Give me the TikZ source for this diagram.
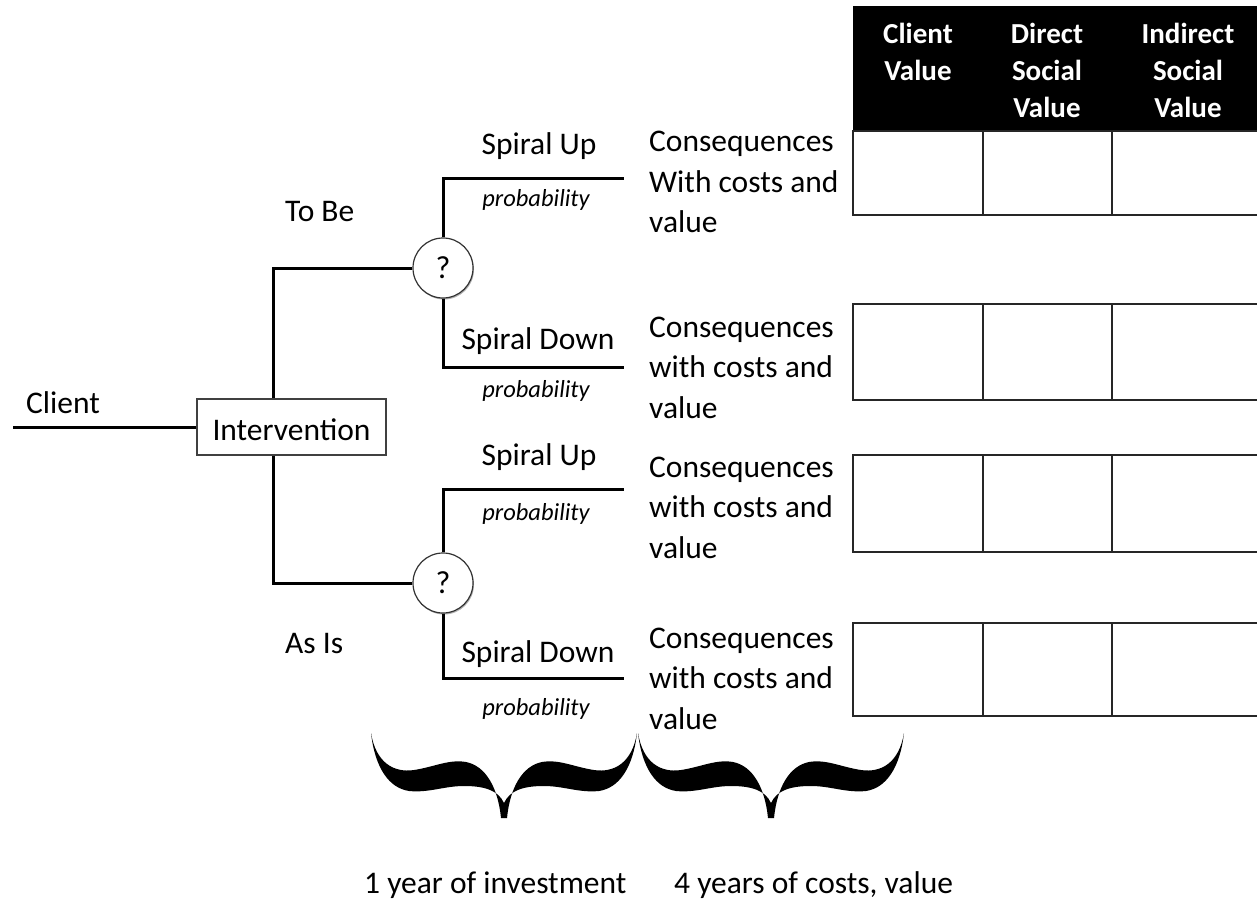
\documentclass[tikz,border=0pt]{standalone}
\usepackage{fontspec}
\setmainfont{Carlito}
\usetikzlibrary{calc,shadows}
\begin{document}
\begin{tikzpicture}[x=1pt,y=-1pt,
  branch/.style={draw=black, line width=3pt},
  lbl/.style={font=\fontsize{31.5}{40.5}\selectfont, inner sep=0pt},
  prob/.style={font=\itshape\fontsize{24.5}{30}\selectfont, inner sep=0pt, anchor=base},
  conseq/.style={lbl, align=left, anchor=base west},
  hdr/.style={font=\bfseries\fontsize{29}{37}\selectfont, text=white, align=center, inner sep=0pt, anchor=base},
  chance/.style={circle, draw=black!80, line width=1.2pt, fill=white, minimum size=60pt, inner sep=0pt,
     font=\fontsize{32}{36}\selectfont, drop shadow={shadow xshift=1pt, shadow yshift=-1.5pt, opacity=0.3, fill=black}},
  ivbox/.style={draw=black!75, line width=1.5pt, fill=white, minimum width=189pt, minimum height=56pt, inner sep=0pt,
     text height=26pt, text depth=0pt, font=\fontsize{31.5}{40.5}\selectfont},
  cell/.style={draw=black!85, line width=2pt},
  halfbrace/.pic={
    \fill[black] (-133,-85) .. controls (-128,-55) and (-110,-45) .. (-90,-48)
      .. controls (-70,-51) and (-55,-59) .. (-38,-56)
      .. controls (-18,-52) and (-6,-30) .. (-3,0) -- (0,0) -- (0,-15)
      .. controls (-6,-28) and (-20,-32) .. (-40,-32)
      .. controls (-60,-32) and (-75,-25) .. (-95,-27)
      .. controls (-115,-30) and (-129,-50) .. (-133,-85) -- cycle;
  }
]
\useasboundingbox (0,0) rectangle (1257,901);

% ---------- table ----------
\begin{scope}
\clip (0,0) rectangle (1257,901);
\fill[black] (853,6) rectangle (1270,132);
\foreach \t/\b in {131/215, 304/400, 455/552, 623/716}{
  \draw[cell] (853,\t) rectangle (1270,\b);
  \draw[cell] (983,\t) -- (983,\b);
  \draw[cell] (1112,\t) -- (1112,\b);
}
\end{scope}
\node[hdr] (h1) at (918,81) {Client\\Value};
\node[hdr] (h2) at (1047,118) {Direct\\Social\\Value};
\node[hdr] (h3) at (1188,118) {Indirect\\Social\\Value};

% ---------- tree ----------
\coordinate (cl) at (13,427);
\coordinate (vx) at (273,0);
\node[ivbox] (iv) at (291.5,427) {Intervention};
\node[lbl, anchor=base west] (client) at (26,413) {Client};
\draw[branch] (cl) -- (iv.west);

\node[chance] (c1) at (443,268) {?};
\node[chance] (c2) at (443,583) {?};
\draw[branch] (iv.north -| vx) |- (c1);
\draw[branch] (iv.south -| vx) |- (c2);

\node[lbl, anchor=base west] (tobe) at (285,222) {To Be};
\node[lbl, anchor=base west] (asis) at (285,653) {As Is};

\coordinate (e1) at (624,179);
\coordinate (e2) at (624,367);
\coordinate (e3) at (624,489);
\coordinate (e4) at (624,678);
\draw[branch] (c1.north) |- (e1);
\draw[branch] (c1.south) |- (e2);
\draw[branch] (c2.north) |- (e3);
\draw[branch] (c2.south) |- (e4);

\node[lbl, anchor=base] (su1) at (539,155) {Spiral Up};
\node[prob] (p1) at (536,207) {probability};
\node[lbl, anchor=base] (sd1) at (538,349) {Spiral Down};
\node[prob] (p2) at (536,397) {probability};
\node[lbl, anchor=base] (su2) at (539,465) {Spiral Up};
\node[prob] (p3) at (536,520) {probability};
\node[lbl, anchor=base] (sd2) at (538,662) {Spiral Down};
\node[prob] (p4) at (536,715) {probability};

\node[conseq] (k1) at (649,233) {Consequences\\With costs and\\value};
\node[conseq] (k2) at (649,418) {Consequences\\with costs and\\value};
\node[conseq] (k3) at (649,558) {Consequences\\with costs and\\value};
\node[conseq] (k4) at (649,729) {Consequences\\with costs and\\value};

% ---------- braces ----------
\pic at (504,818) {halfbrace};
\pic[xscale=-1] at (504,818) {halfbrace};
\pic at (771,818) {halfbrace};
\pic[xscale=-1] at (771,818) {halfbrace};

\node[lbl, anchor=base west] (y1) at (364,893) {1 year of investment};
\node[lbl, anchor=base west] (y4) at (674,893) {4 years of costs, value};
\end{tikzpicture}
\end{document}
